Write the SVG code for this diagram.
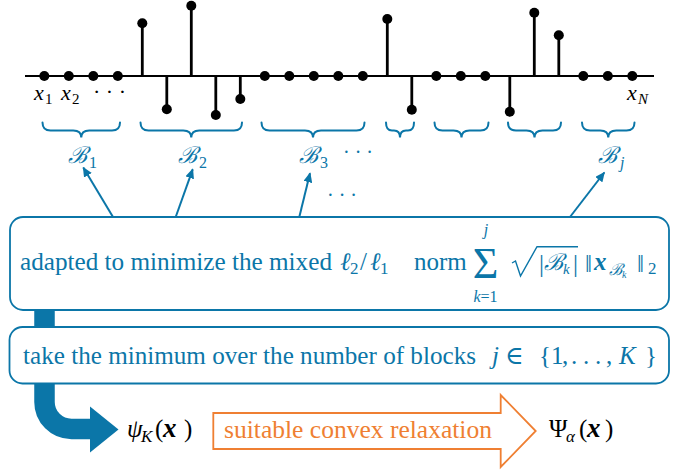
<svg xmlns="http://www.w3.org/2000/svg" width="684" height="472" viewBox="0 0 684 472" font-family="'Liberation Serif', 'DejaVu Serif', serif">
<style>
.bl{fill:#0b76a8;}
.k{fill:#000;}
.it{font-style:italic;}
.bi{font-style:italic;font-weight:bold;}
.cal{font-style:italic;}
.stem{stroke:#000;stroke-width:2.8;fill:none;}
.brace{stroke:#0b76a8;stroke-width:2;fill:none;stroke-linecap:round;}
.conn{stroke:#0b76a8;stroke-width:2;fill:none;}
.box{fill:#fff;stroke:#0b76a8;stroke-width:1.8;}
</style>
<defs>
<marker id="ah" markerUnits="userSpaceOnUse" markerWidth="10" markerHeight="9" refX="9" refY="4.5" orient="auto">
<path d="M0,0 L10,4.5 L0,9 z" fill="#0b76a8"/>
</marker>
</defs>

<g id="signal">
<line x1="25" y1="76" x2="654" y2="76" stroke="#000" stroke-width="2.2"/>
<g class="stem">
<line x1="142.3" y1="76" x2="142.3" y2="23.3"/>
<line x1="166.8" y1="76" x2="166.8" y2="109.3"/>
<line x1="191.3" y1="76" x2="191.3" y2="5.8"/>
<line x1="215.8" y1="76" x2="215.8" y2="115"/>
<line x1="240.3" y1="76" x2="240.3" y2="99"/>
<line x1="387.3" y1="76" x2="387.3" y2="19"/>
<line x1="411.8" y1="76" x2="411.8" y2="109.7"/>
<line x1="509.8" y1="76" x2="509.8" y2="111.7"/>
<line x1="534.3" y1="76" x2="534.3" y2="12.7"/>
<line x1="558.8" y1="76" x2="558.8" y2="35.3"/>
</g>
<g fill="#000">
<circle cx="44.3" cy="76" r="5"/><circle cx="68.8" cy="76" r="5"/><circle cx="93.3" cy="76" r="5"/><circle cx="117.8" cy="76" r="5"/>
<circle cx="142.3" cy="23.3" r="5"/><circle cx="166.8" cy="109.3" r="5"/><circle cx="191.3" cy="5.8" r="5"/><circle cx="215.8" cy="115" r="5"/><circle cx="240.3" cy="99" r="5"/>
<circle cx="264.8" cy="76" r="5"/><circle cx="289.3" cy="76" r="5"/><circle cx="313.8" cy="76" r="5"/><circle cx="338.3" cy="76" r="5"/><circle cx="362.8" cy="76" r="5"/>
<circle cx="387.3" cy="19" r="5"/><circle cx="411.8" cy="109.7" r="5"/>
<circle cx="436.3" cy="76" r="5"/><circle cx="460.8" cy="76" r="5"/><circle cx="485.3" cy="76" r="5"/>
<circle cx="509.8" cy="111.7" r="5"/><circle cx="534.3" cy="12.7" r="5"/><circle cx="558.8" cy="35.3" r="5"/>
<circle cx="583.3" cy="76" r="5"/><circle cx="607.8" cy="76" r="5"/><circle cx="632.3" cy="76" r="5"/>
</g>
<text class="k" font-size="22"><tspan x="34" y="100" class="it">x</tspan><tspan x="45" y="104" font-size="15">1</tspan><tspan x="61" y="100" class="it">x</tspan><tspan x="72" y="104" font-size="15">2</tspan><tspan x="93" y="99">· · ·</tspan></text>
<text class="k" font-size="22"><tspan x="627" y="100" class="it">x</tspan><tspan x="638" y="104" font-size="15" class="it">N</tspan></text>
</g>

<g id="braces">
<path class="brace" d="M42.5 122.5 Q42.5 130.5 50.5 130.5 H73.25 Q81.25 130.5 81.25 137.5 Q81.25 130.5 89.25 130.5 H112 Q120 130.5 120 122.5"/>
<path class="brace" d="M140.5 122.5 Q140.5 130.5 148.5 130.5 H183.25 Q191.25 130.5 191.25 137.5 Q191.25 130.5 199.25 130.5 H234 Q242 130.5 242 122.5"/>
<path class="brace" d="M261.5 122.5 Q261.5 130.5 269.5 130.5 H305 Q313 130.5 313 137.5 Q313 130.5 321 130.5 H356.5 Q364.5 130.5 364.5 122.5"/>
<path class="brace" d="M386 122.5 Q386 130.5 392 130.5 H394 Q400 130.5 400 137.5 Q400 130.5 406 130.5 H408 Q414 130.5 414 122.5"/>
<path class="brace" d="M434.5 122.5 Q434.5 130.5 442.5 130.5 H453.5 Q461.5 130.5 461.5 137.5 Q461.5 130.5 469.5 130.5 H480.5 Q488.5 130.5 488.5 122.5"/>
<path class="brace" d="M508 122.5 Q508 130.5 516 130.5 H526.5 Q534.5 130.5 534.5 137.5 Q534.5 130.5 542.5 130.5 H553 Q561 130.5 561 122.5"/>
<path class="brace" d="M582 122.5 Q582 130.5 590 130.5 H600.25 Q608.25 130.5 608.25 137.5 Q608.25 130.5 616.25 130.5 H626.5 Q634.5 130.5 634.5 122.5"/>
</g>

<g id="labels" class="bl">
<text font-size="23"><tspan x="68" y="163" class="cal">ℬ</tspan><tspan x="89" y="168" font-size="16">1</tspan></text>
<text font-size="23"><tspan x="178" y="163" class="cal">ℬ</tspan><tspan x="199" y="168" font-size="16">2</tspan></text>
<text font-size="23"><tspan x="299" y="163" class="cal">ℬ</tspan><tspan x="320" y="168" font-size="16">3</tspan><tspan x="343" y="159" font-size="20">· · ·</tspan></text>
<text font-size="23"><tspan x="598" y="163" class="cal">ℬ</tspan><tspan x="620" y="168" font-size="16" class="it">j</tspan></text>
<text x="327" y="202" font-size="20">· · ·</text>
</g>

<g id="connectors">
<line class="conn" x1="113" y1="217" x2="83.3" y2="167.5" marker-end="url(#ah)"/>
<line class="conn" x1="175.7" y1="217" x2="192.7" y2="169.3" marker-end="url(#ah)"/>
<line class="conn" x1="299.3" y1="217" x2="310" y2="173.3" marker-end="url(#ah)"/>
<line class="conn" x1="570" y1="217" x2="604.3" y2="172.5" marker-end="url(#ah)"/>
<path d="M44.5 310 V402 A27 27 0 0 0 71.5 429 H91" fill="none" stroke="#0b76a8" stroke-width="20.5"/>
<polygon points="90,406.5 118.5,429.5 90,452.5" fill="#0b76a8"/>
</g>

<g id="box1">
<rect class="box" x="10" y="217" width="659" height="93" rx="13"/>
<text class="bl" font-size="25" x="20" y="270" textLength="312" lengthAdjust="spacingAndGlyphs">adapted to minimize the mixed</text>
<text class="bl" font-size="25"><tspan x="340" y="270" class="it">ℓ</tspan><tspan x="350" y="274" font-size="17">2</tspan><tspan x="360" y="270">/</tspan><tspan x="370" y="270" class="it">ℓ</tspan><tspan x="380" y="274" font-size="17">1</tspan></text>
<text class="bl" font-size="25" x="414" y="270">norm</text>
<text class="bl" x="485.5" y="278" font-size="44" text-anchor="middle">Σ</text>
<text class="bl it" x="486" y="235" font-size="16" text-anchor="middle">j</text>
<text class="bl" x="485.5" y="302" font-size="16" text-anchor="middle"><tspan class="it">k</tspan>=1</text>
<path d="M512 263 L515.5 261 L520.5 276 L537 246.7 H578" fill="none" stroke="#0b76a8" stroke-width="1.4"/>
<text class="bl" font-size="25"><tspan x="539" y="272">|</tspan><tspan x="544" y="270" class="cal" font-size="23">ℬ</tspan><tspan x="563" y="274" font-size="15" class="it">k</tspan><tspan x="573" y="272">|</tspan></text>
<text class="bl" font-size="25"><tspan x="585" y="272">‖</tspan><tspan x="594" y="270" class="bi">x</tspan><tspan x="609" y="275" class="cal" font-size="16">ℬ</tspan><tspan x="622" y="278" font-size="10" class="it">k</tspan><tspan x="637" y="272">‖</tspan><tspan x="648" y="274" font-size="17">2</tspan></text>
</g>

<g id="box2">
<rect class="box" x="9.5" y="327" width="659.5" height="56.5" rx="13"/>
<text class="bl" font-size="25" x="23" y="364" textLength="453" lengthAdjust="spacingAndGlyphs">take the minimum over the number of blocks</text>
<text class="bl" font-size="25"><tspan x="492" y="364" class="it">j</tspan><tspan x="505" y="364">∈</tspan><tspan x="539" y="364">{</tspan><tspan x="551" y="364">1</tspan><tspan x="562" y="364">,</tspan><tspan x="571" y="364">.</tspan><tspan x="583" y="364">.</tspan><tspan x="595" y="364">.</tspan><tspan x="606" y="364">,</tspan><tspan x="619" y="364" class="it">K</tspan><tspan x="645" y="364">}</tspan></text>
</g>

<g id="psiK">
<text class="k" font-size="25"><tspan x="127" y="437" class="it">ψ</tspan><tspan x="141" y="442" font-size="17" class="it">K</tspan><tspan x="155" y="437">(</tspan><tspan x="163" y="437" class="bi" font-size="27">x</tspan><tspan x="184" y="437">)</tspan></text>
</g>

<g id="relaxation">
<polygon points="213.3,413 500.7,413 500.7,395 535.7,431 500.7,467 500.7,449 213.3,449" fill="#fff" stroke="#ef7f32" stroke-width="1.8"/>
<text x="224" y="438" font-size="25" fill="#ef7f32" textLength="268" lengthAdjust="spacingAndGlyphs">suitable convex relaxation</text>
</g>

<g id="PsiAlpha">
<text class="k" font-size="25"><tspan x="549" y="437">Ψ</tspan><tspan x="566" y="442" font-size="17" class="it">α</tspan><tspan x="579" y="437">(</tspan><tspan x="587" y="437" class="bi" font-size="27">x</tspan><tspan x="605" y="437">)</tspan></text>
</g>
</svg>
